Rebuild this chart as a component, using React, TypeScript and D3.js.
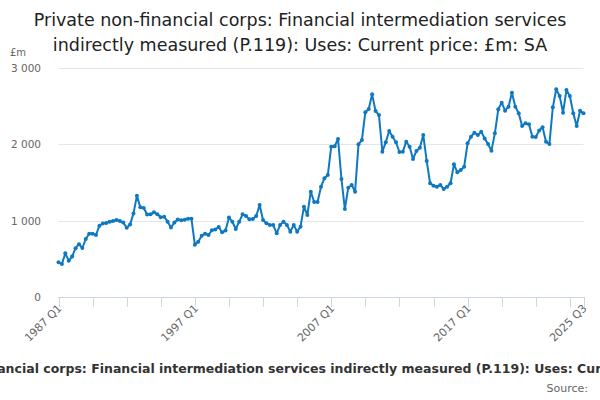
import * as d3 from 'd3'

const title = [
  'Private non-financial corps: Financial intermediation services',
  'indirectly measured (P.119): Uses: Current price: £m: SA',
]
const seriesName =
  'Private non-financial corps: Financial intermediation services indirectly measured (P.119): Uses: Current price: £m: SA'

// quarterly values, £m, starting 1987 Q1
const v1987to1996 = [
  455, 432, 572, 476, 530, 640, 692, 642, 760, 828,
  830, 812, 935, 963, 970, 985, 995, 1008, 995, 975,
  908, 950, 1095, 1325, 1175, 1165, 1080, 1083, 1109, 1083,
  1044, 1052, 987, 910, 975, 1015, 1004, 1013, 1025, 1025,
]
const v1997to2006 = [
  685, 725, 803, 830, 812, 875, 885, 918, 847, 870,
  1040, 986, 891, 986, 1083, 1061, 1017, 1021, 1061, 1205,
  1009, 965, 943, 943, 834, 943, 986, 943, 856, 943,
  856, 921, 1183, 1074, 1380, 1245, 1245, 1445, 1555, 1598,
]
const v2007to2016 = [
  1969, 1975, 2070, 1546, 1153, 1432, 1467, 1380, 2000, 2057,
  2420, 2463, 2655, 2437, 2384, 1904, 2027, 2175, 2100, 2027,
  1900, 1904, 2035, 1969, 1808, 1913, 1956, 2122, 1782, 1490,
  1458, 1445, 1467, 1415, 1445, 1490, 1738, 1633, 1663, 1707,
]
const v2017to2025 = [
  2013, 2100, 2152, 2122, 2165, 2078, 2004, 1917, 2144, 2459,
  2546, 2441, 2493, 2676, 2493, 2406, 2240, 2275, 2262, 2100,
  2095, 2180, 2223, 2035, 2004, 2485, 2721, 2633, 2415, 2712,
  2633, 2406, 2240, 2441, 2406,
]
const values = [...v1987to1996, ...v1997to2006, ...v2007to2016, ...v2017to2025]

const yTicks = [0, 1000, 2000, 3000]
const xLabels = ['1987 Q1', '1997 Q1', '2007 Q1', '2017 Q1', '2025 Q3']
const xLabelIdx = [0, 40, 80, 120, 154]

const W = 600
const H = 400
const font = 'DejaVu Sans, sans-serif'
const blue = '#0e78c0'

export default function App() {
  const n = values.length
  const x = d3.scaleLinear().domain([0, n - 1]).range([58.5, 583.5])
  const y = d3.scaleLinear().domain([0, 3000]).range([297, 68])
  const line = d3.line<number>().x((_, i) => x(i)).y(d => y(d))
  const tickIdx = [...d3.range(0, n - 1, 10), n - 1]
  const fmt = (d: number) => d3.format(',')(d).replace(/,/g, ' ')

  return (
    <svg width={W} height={H} style={{ position: 'absolute', left: 0, top: 0, fontFamily: font }}>
      <rect width={W} height={H} fill="#fff" />
      {title.map((t, i) => (
        <text key={i} x={W / 2} y={26 + i * 25} textAnchor="middle" fontSize={17.5} fill="#222">{t}</text>
      ))}
      <text x={10} y={56} fontSize={10} fill="#666">£m</text>
      {yTicks.map(t => (
        <g key={t}>
          {t > 0 && <line x1={58.5} x2={583.5} y1={Math.round(y(t)) + 0.5} y2={Math.round(y(t)) + 0.5} stroke="#e6e6e6" />}
          <text x={41} y={y(t) + 4} textAnchor="end" fontSize={10.5} fill="#666">{fmt(t)}</text>
        </g>
      ))}
      <line x1={58} x2={584} y1={297.5} y2={297.5} stroke="#ccd6eb" />
      {tickIdx.map(i => (
        <line key={i} x1={Math.round(x(i)) + 0.5} x2={Math.round(x(i)) + 0.5} y1={297} y2={307} stroke="#ccd6eb" />
      ))}
      {xLabels.map((l, k) => (
        <text key={l} transform={`translate(${x(xLabelIdx[k]) + 4},${309}) rotate(-45)`}
          textAnchor="end" fontSize={11} fill="#666">{l}</text>
      ))}
      <path d={line(values) ?? ''} fill="none" stroke={blue} strokeWidth={2} strokeLinejoin="round" />
      {values.map((v, i) => (
        <circle key={i} cx={x(i)} cy={y(v)} r={2} fill={blue} />
      ))}
      <text x={311} y={373} textAnchor="middle" fontSize={12.5} fontWeight="bold" fill="#333">{seriesName}</text>
      <text x={588} y={392} textAnchor="end" fontSize={11} fill="#666">Source:</text>
    </svg>
  )
}
